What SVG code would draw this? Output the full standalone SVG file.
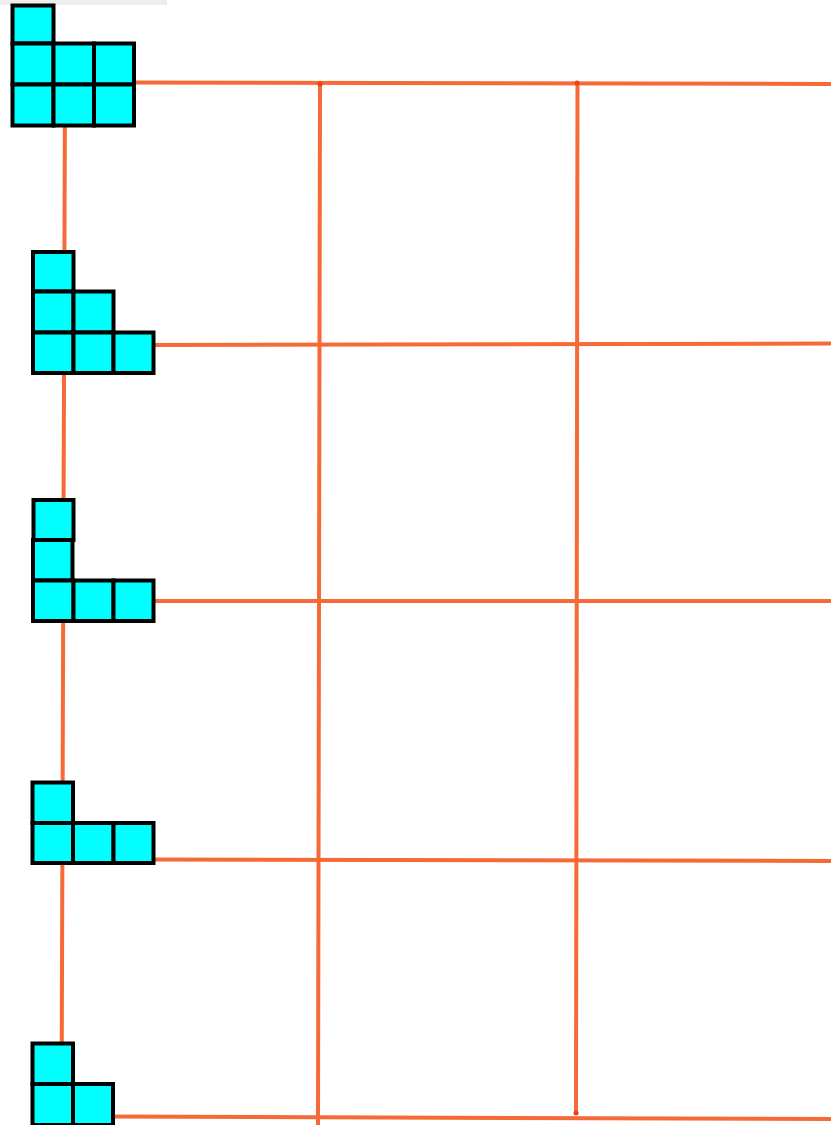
<svg xmlns="http://www.w3.org/2000/svg" width="831" height="1125" viewBox="0 0 831 1125">
<style>
.ln{stroke:#f56a36;stroke-width:4;stroke-linecap:round;fill:none}
.c{fill:#00ffff;stroke:#000;stroke-width:4}
.dot{fill:#e8401c}
</style>
<rect width="831" height="1125" fill="#ffffff"/>
<rect x="0" y="0" width="167" height="5" fill="#eeeeee"/>
<g id="connectors">
<line class="ln" x1="134" y1="82.5" x2="831" y2="84"/>
<line class="ln" x1="150" y1="345" x2="831" y2="343.5"/>
<line class="ln" x1="150" y1="601" x2="831" y2="601"/>
<line class="ln" x1="150" y1="859.5" x2="831" y2="861"/>
<line class="ln" x1="110" y1="1116.5" x2="831" y2="1119"/>
<line class="ln" x1="65" y1="84" x2="61.5" y2="1118"/>
<line class="ln" x1="320" y1="84" x2="318" y2="1125"/>
<line class="ln" x1="577.5" y1="83" x2="576" y2="1113"/>
<circle class="dot" cx="320" cy="84" r="2.5"/>
<circle class="dot" cx="577" cy="83" r="2.5"/>
<circle class="dot" cx="576" cy="1113" r="2.5"/>
</g>
<g id="shape1">
<rect class="c" x="12.5" y="5.5" width="41" height="38"/>
<rect class="c" x="12.5" y="43.5" width="41" height="41"/>
<rect class="c" x="53.5" y="43.5" width="40.5" height="41"/>
<rect class="c" x="94" y="43.5" width="40" height="41"/>
<rect class="c" x="12.5" y="84.5" width="41" height="41"/>
<rect class="c" x="53.5" y="84.5" width="40.5" height="41"/>
<rect class="c" x="94" y="84.5" width="40" height="41"/>
</g>
<g id="shape2">
<rect class="c" x="33" y="252" width="40.5" height="39.5"/>
<rect class="c" x="33" y="291.5" width="40.5" height="41"/>
<rect class="c" x="73.5" y="291.5" width="40" height="41"/>
<rect class="c" x="33" y="332.5" width="40.5" height="40.5"/>
<rect class="c" x="73.5" y="332.5" width="40" height="40.5"/>
<rect class="c" x="113.5" y="332.5" width="40" height="40.5"/>
</g>
<g id="shape3">
<rect class="c" x="33.5" y="500" width="40" height="40"/>
<rect class="c" x="33" y="540" width="39.5" height="40.5"/>
<rect class="c" x="33" y="580.5" width="40.5" height="40.5"/>
<rect class="c" x="73.5" y="580.5" width="40" height="40.5"/>
<rect class="c" x="113.5" y="580.5" width="40" height="40.5"/>
</g>
<g id="shape4">
<rect class="c" x="32.5" y="782.5" width="40.5" height="40.5"/>
<rect class="c" x="32.5" y="823" width="40.5" height="40"/>
<rect class="c" x="73" y="823" width="40.5" height="40"/>
<rect class="c" x="113.5" y="823" width="40" height="40"/>
</g>
<g id="shape5">
<rect class="c" x="32.5" y="1043.5" width="40.5" height="40.5"/>
<rect class="c" x="32.5" y="1084" width="40.5" height="41"/>
<rect class="c" x="73" y="1084" width="40" height="41"/>
</g>
</svg>
